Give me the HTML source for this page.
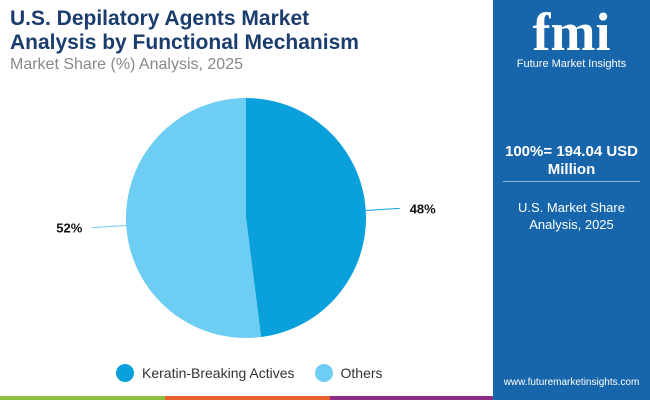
<!DOCTYPE html>
<html><head><meta charset="utf-8"><style>
body{margin:0;width:650px;height:400px;overflow:hidden;font-family:"Liberation Sans",sans-serif;background:#fff;position:relative}
.t{position:absolute;left:10px;font-weight:bold;color:#1a3d6d;font-size:21px;line-height:24px}
#panel{position:absolute;left:493px;top:0;width:157px;height:400px;background:#1766ab}
</style></head><body>
<div class="t" style="top:7px">U.S. Depilatory Agents Market<br>Analysis by Functional Mechanism</div>
<div style="position:absolute;left:10px;top:56px;font-size:16px;color:#888">Market Share (%) Analysis, 2025</div>
<svg id="chart" width="493" height="400" style="position:absolute;left:0;top:0"></svg>
<div style="position:absolute;top:364px;left:116px;font-size:14px;color:#333;display:flex;align-items:center">
<span style="display:flex;align-items:center"><span style="width:18px;height:18px;border-radius:50%;background:#0aa0db;display:inline-block;margin-right:8px"></span>Keratin-Breaking Actives</span>
<span style="display:flex;align-items:center;margin-left:20px"><span style="width:18px;height:18px;border-radius:50%;background:#6ecdf2;display:inline-block;margin-right:8px"></span>Others</span>
</div>
<div style="position:absolute;top:396px;left:0;width:165px;height:4px;background:#8bbf3f"></div>
<div style="position:absolute;top:396px;left:165px;width:165px;height:4px;background:#e8602c"></div>
<div style="position:absolute;top:396px;left:330px;width:163px;height:4px;background:#8e2d86"></div>
<div id="panel">
<div style="position:absolute;top:4px;left:0;width:157px;text-align:center;color:#fff;font-family:'Liberation Serif',serif;font-weight:bold;font-size:54px;line-height:56px">fmi</div>
<div style="position:absolute;top:58px;left:0;width:157px;text-align:center;color:#fff;font-size:11px">Future Market Insights</div>
<div style="position:absolute;top:143px;left:0;width:157px;text-align:center;color:#fff;font-weight:bold;font-size:15px;line-height:18px">100%= 194.04 USD<br>Million</div>
<div style="position:absolute;top:181px;left:10px;width:137px;height:1px;background:#8fb6dc"></div>
<div style="position:absolute;top:199px;left:0;width:157px;text-align:center;color:#fff;font-size:13px;line-height:17px">U.S. Market Share<br>Analysis, 2025</div>
<div style="position:absolute;top:377px;left:0;width:157px;text-align:center;color:#fff;font-size:10px">www.futuremarketinsights.com</div>
</div>
<script>
const categories=["Keratin-Breaking Actives","Others"];
const values=[48,52];
const labels=["48%","52%"];
const colors=["#0aa0db","#6ecdf2"];
const svg=document.getElementById('chart');
const NS="http://www.w3.org/2000/svg";
const cx=246,cy=218,r=120;
const total=values.reduce((a,b)=>a+b,0);
let a0=0;
function pt(a,rr){return [cx+rr*Math.sin(a),cy-rr*Math.cos(a)];}
values.forEach((v,i)=>{
 const a1=a0+v/total*2*Math.PI;
 const p0=pt(a0,r),p1=pt(a1,r);
 const large=(a1-a0)>Math.PI?1:0;
 const path=document.createElementNS(NS,'path');
 path.setAttribute('d',`M${cx},${cy}L${p0[0]},${p0[1]}A${r},${r} 0 ${large} 1 ${p1[0]},${p1[1]}Z`);
 path.setAttribute('fill',colors[i]);
 
 
 svg.appendChild(path);
 const am=(a0+a1)/2;
 const s=pt(am,r),e=pt(am,r+34);
 const ln=document.createElementNS(NS,'line');
 ln.setAttribute('x1',s[0]);ln.setAttribute('y1',s[1]);ln.setAttribute('x2',e[0]);ln.setAttribute('y2',e[1]);
 ln.setAttribute('stroke',colors[i]);ln.setAttribute('stroke-width','1');
 
 
 svg.appendChild(ln);
 const tx=document.createElementNS(NS,'text');
 const right=Math.sin(am)>0;
 tx.setAttribute('x',right?e[0]+10:e[0]-10);tx.setAttribute('y',e[1]+5);
 tx.setAttribute('text-anchor',right?'start':'end');
 tx.setAttribute('font-size','13');tx.setAttribute('font-weight','bold');tx.setAttribute('fill','#111');
 tx.setAttribute('font-family','Liberation Sans, sans-serif');
 tx.textContent=labels[i];
 
 
 svg.appendChild(tx);
 a0=a1;
});
</script>
</body></html>
